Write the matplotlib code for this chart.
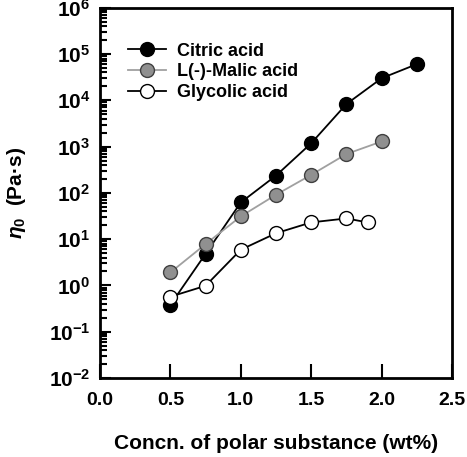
import matplotlib
matplotlib.use('Agg')
from matplotlib import pyplot as plt
from matplotlib import ticker
import numpy as np

plt.rcParams['font.family'] = ['Liberation Sans', 'DejaVu Sans']
plt.rcParams['font.weight'] = 'bold'
plt.rcParams['mathtext.fontset'] = 'custom'
plt.rcParams['mathtext.rm'] = 'Liberation Sans:bold'
plt.rcParams['mathtext.bf'] = 'Liberation Sans:bold'
plt.rcParams['mathtext.it'] = 'Liberation Sans:italic:bold'

# data
citric_x = [0.5, 0.75, 1.0, 1.25, 1.5, 1.75, 2.0, 2.25]
citric_y = [0.38, 4.8, 62, 236, 1180, 8300, 30000, 60500]
malic_x = [0.5, 0.75, 1.0, 1.25, 1.5, 1.75, 2.0]
malic_y = [1.9, 7.8, 31, 91, 245, 690, 1290]
glycolic_x = [0.5, 0.75, 1.0, 1.25, 1.5, 1.75, 1.9]
glycolic_y = [0.57, 0.98, 5.9, 13.4, 23, 28, 23]

fig = plt.figure(figsize=(4.67, 4.57), dpi=100)
ax = fig.add_axes([0.214, 0.173, 0.754, 0.81])

ms = 10
ax.plot(citric_x, citric_y, '-o', color='black', lw=1.3, ms=ms,
        mfc='black', mec='black', mew=1, label='Citric acid')
ax.plot(malic_x, malic_y, '-o', color='#a0a0a0', lw=1.3, ms=ms,
        mfc='#909090', mec='#404040', mew=1, label='L(-)-Malic acid')
ax.plot(glycolic_x, glycolic_y, '-o', color='black', lw=1.3, ms=ms,
        mfc='white', mec='black', mew=1, label='Glycolic acid')

ax.set_yscale('log')
ax.set_xlim(0, 2.5)
ax.set_ylim(1e-2, 1e6)
ax.set_xticks([0.0, 0.5, 1.0, 1.5, 2.0, 2.5])
ax.xaxis.set_major_formatter(ticker.FormatStrFormatter('%.1f'))
ax.yaxis.set_major_locator(ticker.LogLocator(base=10, numticks=20))
ax.yaxis.set_minor_locator(ticker.LogLocator(base=10, subs=np.arange(2, 10), numticks=20))
ax.yaxis.set_minor_formatter(ticker.NullFormatter())
ax.yaxis.set_major_formatter(ticker.FuncFormatter(
    lambda v, p: r'$\mathbf{10^{%d}}$' % round(np.log10(v))))

ax.tick_params(axis='both', which='both', direction='in', top=False, right=False,
               width=1.5)
ax.tick_params(axis='x', labelsize=14)
ax.tick_params(axis='y', labelsize=15)
ax.tick_params(axis='y', which='major', length=8, pad=7)
ax.tick_params(axis='y', which='minor', length=5)
ax.tick_params(axis='x', which='major', length=10, pad=10)
for s in ax.spines.values():
    s.set_linewidth(2)

ax.set_xlabel('Concn. of polar substance (wt%)', fontsize=15, fontweight='bold', labelpad=18)
ax.set_ylabel(r'$\eta_0$  (Pa·s)', fontsize=15, fontweight='bold', labelpad=15)

ax.legend(loc='upper left', bbox_to_anchor=(0.06, 0.925), frameon=False,
          fontsize=13, handlelength=2.1, handletextpad=0.6, labelspacing=0.2,
          borderaxespad=0)

fig.savefig('out.png', dpi=100)
